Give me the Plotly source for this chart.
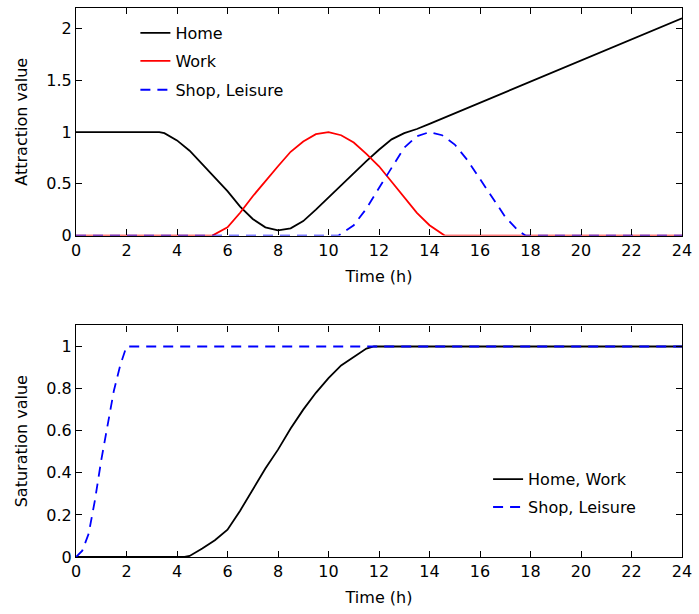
import plotly.graph_objects as go
from plotly.subplots import make_subplots

# ---- Top panel: attraction values ----
home_t = [0, 1, 2, 3, 3.3, 3.5, 4, 4.5, 5, 5.5, 6, 6.5, 7, 7.5, 8, 8.5, 9, 9.5, 10,
          10.5, 11, 11.5, 12, 12.5, 13, 13.5, 14, 24]
home_v = [1, 1, 1, 1, 1, 0.99, 0.92, 0.82, 0.69, 0.56, 0.43, 0.28, 0.16, 0.08, 0.05,
          0.07, 0.14, 0.25, 0.37, 0.49, 0.61, 0.72, 0.83, 0.93, 0.99, 1.03, 1.08, 2.1]

work_t = [0, 5.4, 6, 6.5, 7, 7.5, 8, 8.5, 9, 9.5, 10, 10.5, 11, 11.5, 12, 12.5,
          13, 13.5, 14, 14.5, 14.6, 24]
work_v = [0, 0, 0.08, 0.22, 0.38, 0.53, 0.67, 0.81, 0.91, 0.98, 1.0, 0.97, 0.9, 0.79,
          0.67, 0.52, 0.37, 0.22, 0.1, 0.02, 0, 0]

shop_t = [0, 10.4, 11, 11.5, 12, 12.5, 13, 13.5, 14, 14.5, 15, 15.5, 16, 16.5, 17,
          17.5, 17.8, 24]
shop_v = [0, 0, 0.1, 0.26, 0.46, 0.66, 0.85, 0.96, 1.0, 0.97, 0.88, 0.73, 0.55,
          0.36, 0.18, 0.05, 0, 0]

# ---- Bottom panel: saturation values ----
sat_hw_t = [0, 4.3, 4.5, 5, 5.5, 6, 6.5, 7, 7.5, 8, 8.5, 9, 9.5, 10, 10.5, 11,
            11.5, 11.8, 24]
sat_hw_v = [0, 0, 0.005, 0.04, 0.08, 0.13, 0.22, 0.32, 0.42, 0.51, 0.61, 0.7,
            0.78, 0.85, 0.91, 0.95, 0.99, 1, 1]

sat_sl_t = [0, 0.25, 0.5, 0.75, 1, 1.25, 1.5, 1.75, 2, 24]
sat_sl_v = [0, 0.03, 0.11, 0.27, 0.46, 0.63, 0.79, 0.91, 1, 1]

x_ticks = list(range(0, 25, 2))
top_yticks = [0, 0.5, 1, 1.5, 2]
top_yticklabels = ["0", "0.5", "1", "1.5", "2"]
bot_yticks = [0, 0.2, 0.4, 0.6, 0.8, 1]
bot_yticklabels = ["0", "0.2", "0.4", "0.6", "0.8", "1"]

FONT = "DejaVu Sans, Arial, sans-serif"
BLACK, RED, BLUE = "#000000", "#ff0000", "#0000ff"
DASH = "10px,7px"
LW = 1.8

fig = make_subplots(rows=2, cols=1, vertical_spacing=0.1)

fig.add_trace(go.Scatter(x=home_t, y=home_v, mode="lines", name="Home",
                         line=dict(color=BLACK, width=LW), legend="legend"), row=1, col=1)
fig.add_trace(go.Scatter(x=work_t, y=work_v, mode="lines", name="Work",
                         line=dict(color=RED, width=LW), legend="legend2"), row=1, col=1)
fig.add_trace(go.Scatter(x=shop_t, y=shop_v, mode="lines", name="Shop, Leisure",
                         line=dict(color=BLUE, width=LW, dash=DASH), legend="legend3"), row=1, col=1)

fig.add_trace(go.Scatter(x=sat_hw_t, y=sat_hw_v, mode="lines", name="Home, Work",
                         line=dict(color=BLACK, width=LW), legend="legend4"), row=2, col=1)
fig.add_trace(go.Scatter(x=sat_sl_t, y=sat_sl_v, mode="lines", name="Shop, Leisure",
                         line=dict(color=BLUE, width=LW, dash=DASH), legend="legend5"), row=2, col=1)

axis_common = dict(showline=True, linecolor="black", linewidth=1.2, mirror="ticks",
                   ticks="inside", ticklen=6, tickcolor="black", tickwidth=1.2,
                   showgrid=False, zeroline=False,
                   tickfont=dict(family=FONT, size=16, color="black"))

title_font = dict(family=FONT, size=16, color="black")

for r in (1, 2):
    fig.update_xaxes(range=[0, 24], tickvals=x_ticks, ticktext=[str(v) for v in x_ticks],
                     title=dict(text="Time (h)", font=title_font, standoff=11),
                     row=r, col=1, **axis_common)

fig.update_yaxes(range=[0, 2.2], tickvals=top_yticks, ticktext=top_yticklabels,
                 title=dict(text="Attraction value", font=title_font, standoff=14),
                 row=1, col=1, **axis_common)
fig.update_yaxes(range=[0, 1.1], tickvals=bot_yticks, ticktext=bot_yticklabels,
                 title=dict(text="Saturation value", font=title_font, standoff=14),
                 row=2, col=1, **axis_common)


def leg(x, y):
    return dict(x=x, y=y, xanchor="left", yanchor="middle", bgcolor="rgba(0,0,0,0)",
                borderwidth=0, font=dict(family=FONT, size=16, color="black"))


fig.update_layout(
    width=699, height=614,
    margin=dict(l=76, r=13, t=7, b=57),
    paper_bgcolor="white", plot_bgcolor="white",
    font=dict(family=FONT, size=16, color="black"),
    xaxis=dict(domain=[0, 1]), xaxis2=dict(domain=[0, 1]),
    yaxis=dict(domain=[0.5855, 1.0]), yaxis2=dict(domain=[0.0, 0.4218]),
    legend=leg(0.098, 0.9545),
    legend2=leg(0.098, 0.9036),
    legend3=leg(0.098, 0.8509),
    legend4=leg(0.68, 0.1418),
    legend5=leg(0.68, 0.0909),
    showlegend=True,
)

fig.write_html("out.html", config={"displayModeBar": False},
               post_script="document.body.style.margin='0';document.body.style.overflow='hidden';")
